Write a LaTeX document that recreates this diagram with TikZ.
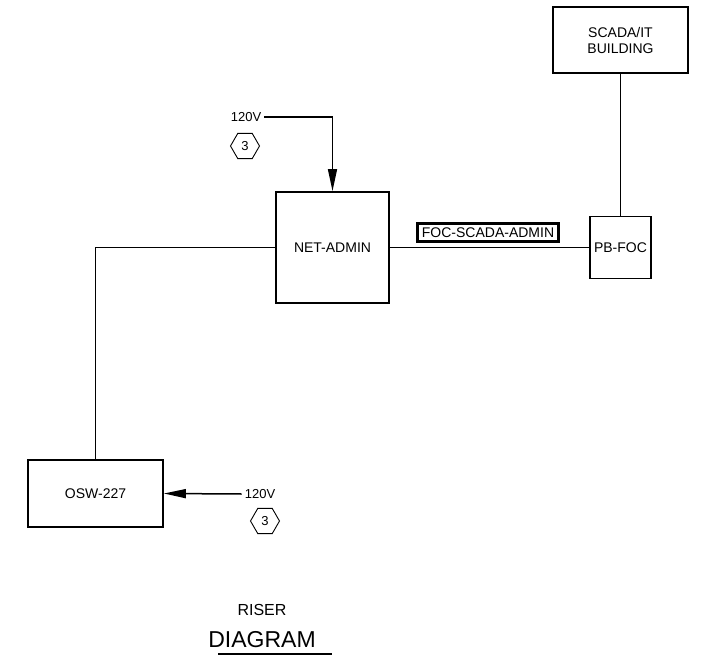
\documentclass[tikz,border=0pt]{standalone}
\usepackage{fontspec}
\setmainfont{Liberation Sans}
\usetikzlibrary{arrows.meta,shapes.geometric}
\begin{document}
\begin{tikzpicture}[x=1pt,y=-1pt,
        box/.style={draw,line width=1.8pt,inner sep=0pt,font=\fontsize{14}{16}\selectfont,align=center},
        wire/.style={line width=1.4pt},
        feed/.style={line width=1.5pt,-{Triangle[length=22pt,width=9pt]}},
        hexnote/.style={draw,line width=0.9pt,regular polygon,regular polygon sides=6,minimum size=29pt,inner sep=0pt,font=\fontsize{13}{15}\selectfont},
        volt/.style={inner sep=3pt,font=\fontsize{13}{15}\selectfont}]
                \useasboundingbox (0,0) rectangle (702,656);
                \node[box,minimum width=135pt,minimum height=66pt] (scada) at (620.5,40) {SCADA/IT\\BUILDING};
                \node[box,minimum width=61pt,minimum height=62pt] (pbfoc) at (620.5,247.5) {PB-FOC};
                \node[box,minimum width=113pt,minimum height=111pt] (netadmin) at (332.5,247.5) {NET-ADMIN};
                \node[box,minimum width=135pt,minimum height=67pt] (osw) at (95.5,493.5) {OSW-227};
                \node[box,line width=2.4pt,minimum width=141pt,minimum height=18pt] (cable) at (488,232.5) {FOC-SCADA-ADMIN};
                \node[volt] (vtop) at (246,117) {120V};
                \node[hexnote] (hextop) at (245,146) {3};
                \node[volt] (vbot) at (260,494) {120V};
                \node[hexnote] (hexbot) at (265,521) {3};
                \draw[wire] (scada.south) -- (pbfoc.north);
                \draw[wire] (netadmin.east) -- (pbfoc.west);
                \draw[wire] (netadmin.west) -| (osw.north);
                \draw[feed] (vtop.east) -| (netadmin.north);
                \draw[feed] (vbot.west) -- (osw.east);
                \node[font=\fontsize{16}{18}\selectfont] (riser) at (262,610) {RISER};
                \node[font=\fontsize{23}{26}\selectfont] (diagram) at (262,640) {DIAGRAM};
                \draw[wire] (218,654) -- (332,654);
\end{tikzpicture}
\end{document}
